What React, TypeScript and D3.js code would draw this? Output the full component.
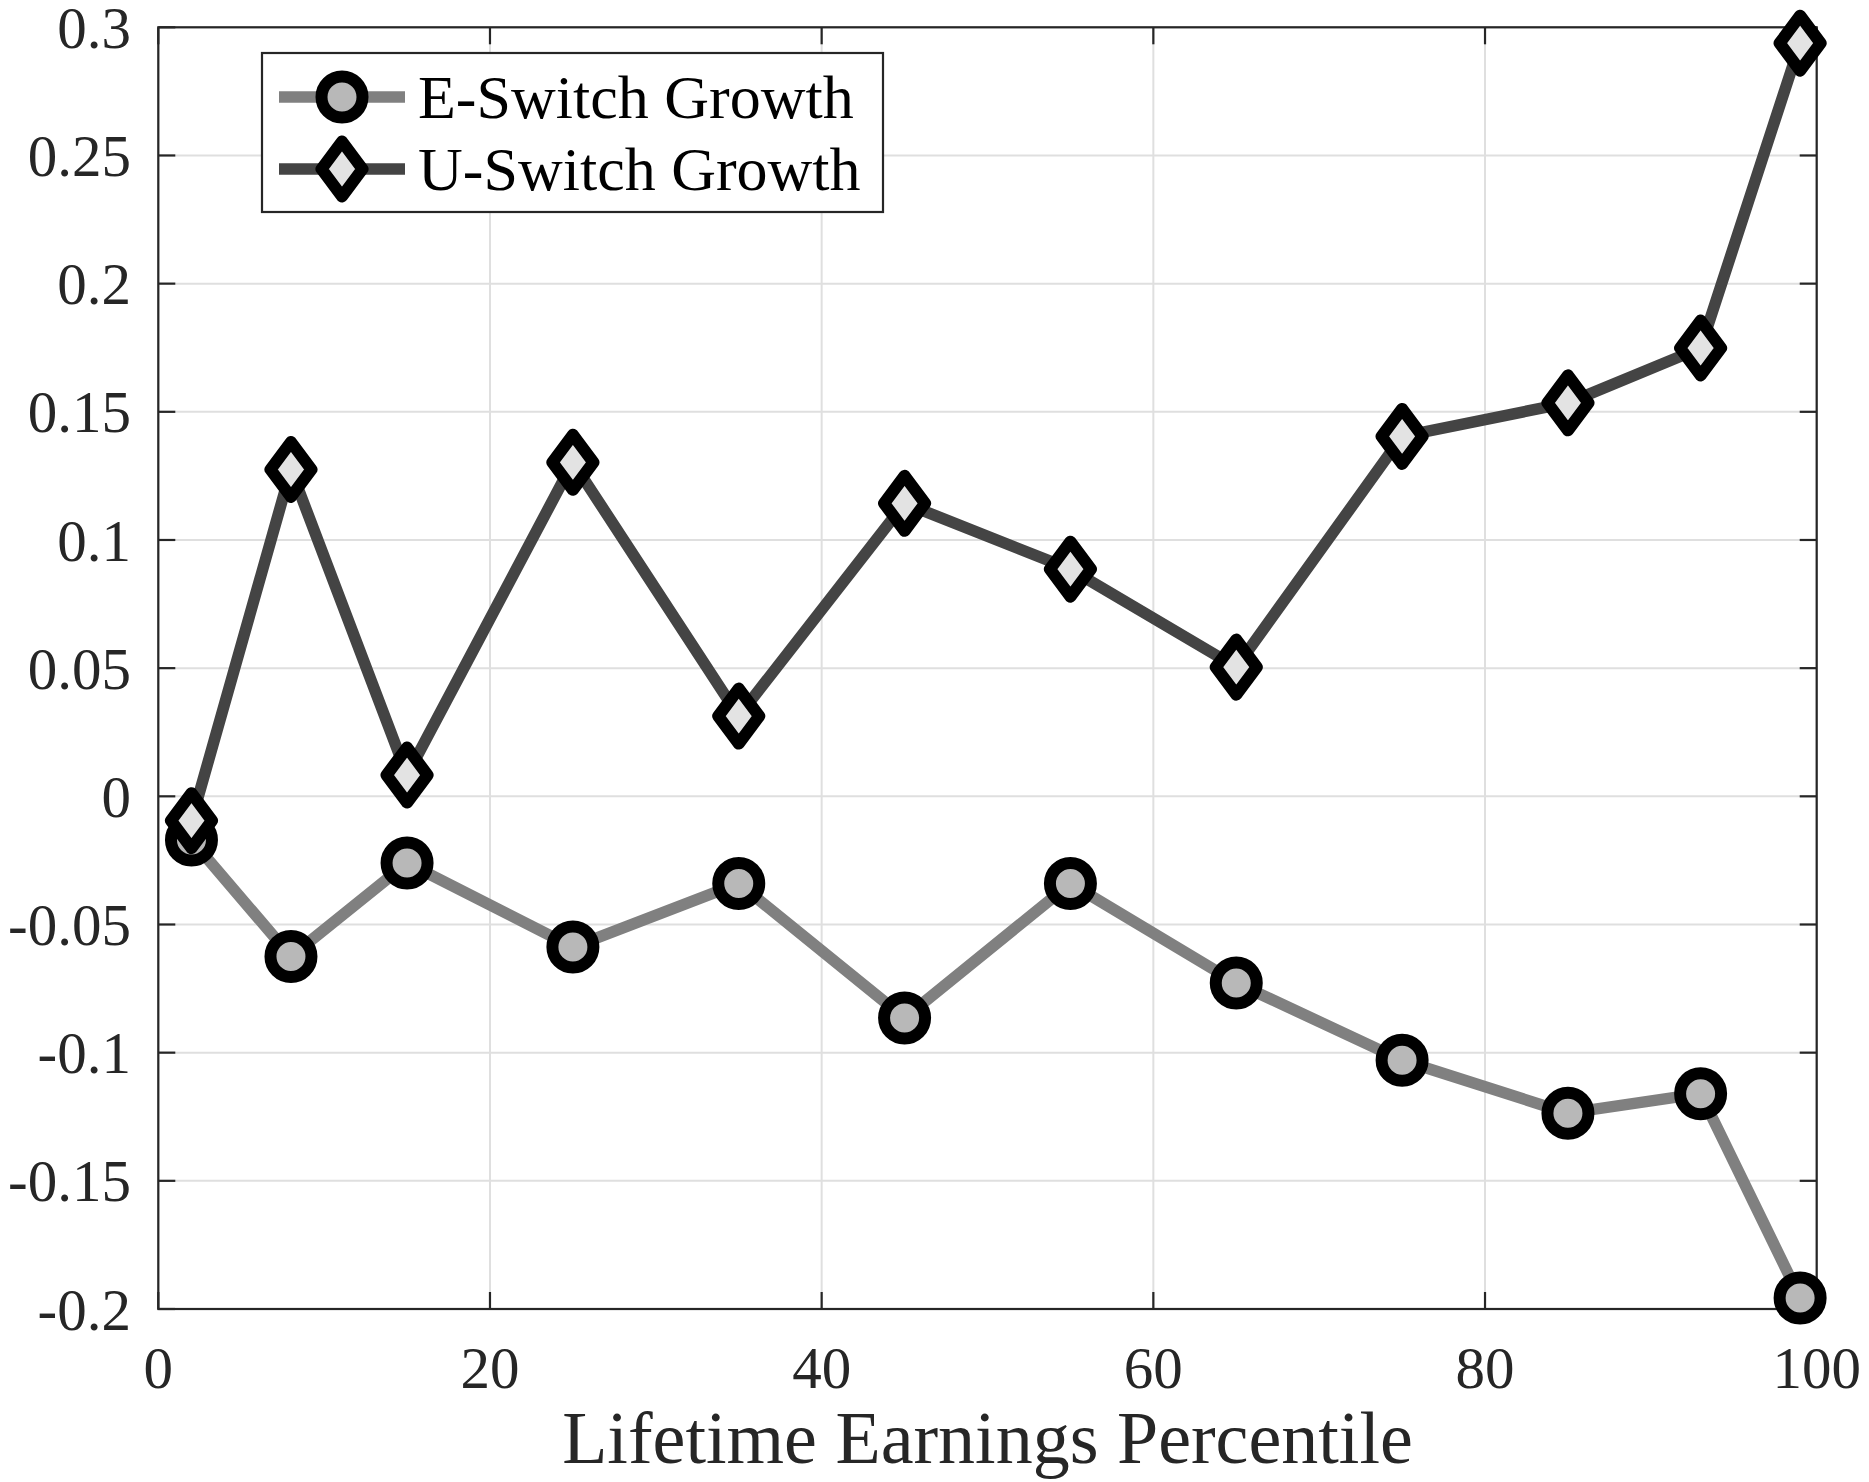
import { line, scaleLinear } from "d3";

// Lifetime earnings percentile bins and the two growth series
const PERCENTILES = [2, 8, 15, 25, 35, 45, 55, 65, 75, 85, 93, 99];
const E_SWITCH = [-0.017, -0.0625, -0.026, -0.0588, -0.034, -0.0865, -0.034, -0.0728, -0.103, -0.1236, -0.116, -0.1957];
const U_SWITCH = [-0.0095, 0.1275, 0.0083, 0.1303, 0.0313, 0.1143, 0.0886, 0.0504, 0.1404, 0.1535, 0.1749, 0.2938];

const X_TICKS = [0, 20, 40, 60, 80, 100];
const Y_TICKS = [-0.2, -0.15, -0.1, -0.05, 0, 0.05, 0.1, 0.15, 0.2, 0.25, 0.3];
const Y_TICK_LABELS = ["-0.2", "-0.15", "-0.1", "-0.05", "0", "0.05", "0.1", "0.15", "0.2", "0.25", "0.3"];

const SERIES_NAMES = ["E-Switch Growth", "U-Switch Growth"];

const WIDTH = 1869;
const HEIGHT = 1482;
const margin = { top: 27.3, right: 52.3, bottom: 173, left: 158.3 };

const AXIS_COLOR = "#262626";
const GRID_COLOR = "#dfdfdf";
const FONT = "'Liberation Serif', 'Times New Roman', serif";

const DIAMOND = "M0,-27.5L20.5,0L0,27.5L-20.5,0Z";

export default function App() {
  const x = scaleLinear().domain([0, 100]).range([margin.left, WIDTH - margin.right]);
  const y = scaleLinear().domain([-0.2, 0.3]).range([HEIGHT - margin.bottom, margin.top]);
  const [x0, x1] = x.range();
  const [yBottom, yTop] = y.range();
  const tickLen = 17;

  const path = line<number>()
    .x((_, i) => x(PERCENTILES[i]))
    .y((d) => y(d));

  const series = [
    { name: SERIES_NAMES[0], values: E_SWITCH, stroke: "#808080", fill: "#b8b8b8", marker: "circle" },
    { name: SERIES_NAMES[1], values: U_SWITCH, stroke: "#444444", fill: "#e3e3e3", marker: "diamond" },
  ];

  const marker = (kind: string, fill: string, cx: number, cy: number, key: string | number) =>
    kind === "circle" ? (
      <circle key={key} cx={cx} cy={cy} r={20.5} fill={fill} stroke="#000" strokeWidth={12} />
    ) : (
      <path
        key={key}
        d={DIAMOND}
        transform={`translate(${cx},${cy})`}
        fill={fill}
        stroke="#000"
        strokeWidth={12}
        strokeLinejoin="round"
      />
    );

  // legend geometry
  const legend = { x: 262, y: 53, w: 621, h: 159 };
  const legendRows = [97, 169];

  return (
    <svg
      width={WIDTH}
      height={HEIGHT}
      style={{ position: "absolute", left: 0, top: 0, background: "#fff" }}
      fontFamily={FONT}
    >
      {/* grid */}
      <g stroke={GRID_COLOR} strokeWidth={2}>
        {X_TICKS.map((t) => (
          <line key={`gx${t}`} x1={x(t)} x2={x(t)} y1={yTop} y2={yBottom} />
        ))}
        {Y_TICKS.map((t) => (
          <line key={`gy${t}`} x1={x0} x2={x1} y1={y(t)} y2={y(t)} />
        ))}
      </g>

      {/* axes box and ticks */}
      <g stroke={AXIS_COLOR} strokeWidth={2.2} fill="none">
        <rect x={x0} y={yTop} width={x1 - x0} height={yBottom - yTop} />
        {X_TICKS.map((t) => (
          <g key={`tx${t}`}>
            <line x1={x(t)} x2={x(t)} y1={yBottom} y2={yBottom - tickLen} />
            <line x1={x(t)} x2={x(t)} y1={yTop} y2={yTop + tickLen} />
          </g>
        ))}
        {Y_TICKS.map((t) => (
          <g key={`ty${t}`}>
            <line x1={x0} x2={x0 + tickLen} y1={y(t)} y2={y(t)} />
            <line x1={x1} x2={x1 - tickLen} y1={y(t)} y2={y(t)} />
          </g>
        ))}
      </g>

      {/* tick labels */}
      <g fill={AXIS_COLOR} fontSize={59}>
        {X_TICKS.map((t) => (
          <text key={`lx${t}`} x={x(t)} y={1388} textAnchor="middle">
            {t}
          </text>
        ))}
        {Y_TICKS.map((t, i) => (
          <text key={`ly${t}`} x={131} y={y(t)} dy="0.35em" textAnchor="end">
            {Y_TICK_LABELS[i]}
          </text>
        ))}
      </g>

      <text x={(x0 + x1) / 2} y={1463} textAnchor="middle" fontSize={74} fill={AXIS_COLOR}>
        Lifetime Earnings Percentile
      </text>

      {/* series */}
      {series.map((s) => (
        <g key={s.name}>
          <path d={path(s.values) ?? ""} fill="none" stroke={s.stroke} strokeWidth={11.5} strokeLinejoin="round" />
          {s.values.map((v, i) => marker(s.marker, s.fill, x(PERCENTILES[i]), y(v), i))}
        </g>
      ))}

      {/* legend */}
      <g>
        <rect x={legend.x} y={legend.y} width={legend.w} height={legend.h} fill="#fff" stroke={AXIS_COLOR} strokeWidth={2.2} />
        {series.map((s, i) => (
          <g key={`leg${s.name}`}>
            <line x1={279} x2={405} y1={legendRows[i]} y2={legendRows[i]} stroke={s.stroke} strokeWidth={11.5} />
            {marker(s.marker, s.fill, 342, legendRows[i], `m${i}`)}
            <text x={418} y={legendRows[i] + 20.5} fontSize={62} fill="#000">
              {s.name}
            </text>
          </g>
        ))}
      </g>
    </svg>
  );
}
